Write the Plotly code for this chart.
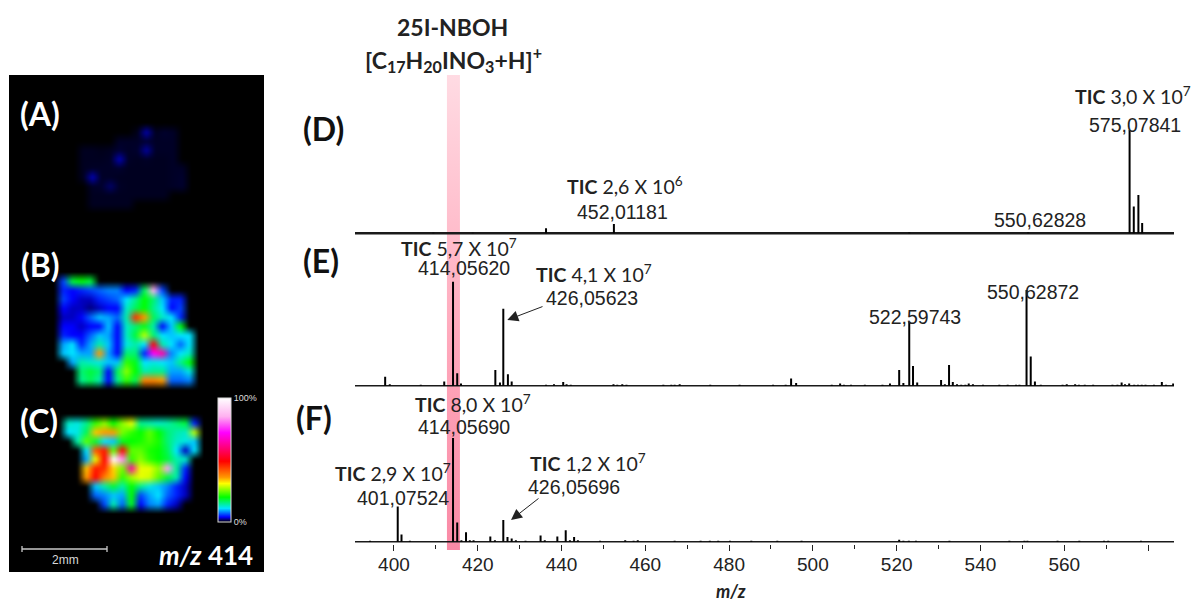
import numpy as np
import plotly.graph_objects as go

W, H = 1197, 603

# ---------- spectra (m/z and relative intensity) ----------
D_MZ = [409.4, 418.8, 436.3, 452.5, 523.0, 551.4, 575.6, 576.6, 577.7, 578.6]
D_INT = [0.6, 0.6, 5, 9, 0.8, 0.8, 100, 26, 37, 10]

E_MZ = [397.9, 399.0, 406.4, 412.0, 414.1, 415.1, 416.0, 424.2, 425.3, 426.1, 427.2, 428.1,
        436.3, 438.2, 440.4, 441.2, 442.2, 452.4, 453.3, 454.5, 455.5, 464.3, 466.2, 467.0, 468.2,
        475.5, 482.5, 490.5, 493.5, 494.8, 496.0, 504.5, 506.5, 507.4, 509.1, 512.4, 516.6, 518.4,
        520.6, 521.6, 523.0, 523.9, 524.9, 530.6, 531.5, 532.5, 533.4, 534.4, 535.4, 536.4, 537.2,
        538.2, 540.6, 544.5, 546.5, 548.5, 549.3, 551.0, 552.0, 553.0, 554.4, 559.6, 560.6, 562.6,
        563.5, 564.9, 566.9, 571.5, 572.7, 573.7, 574.5, 575.5, 576.7, 577.6, 578.5, 579.4, 581.4,
        583.3, 584.3, 586.0]
E_INT = [8.6, 1.5, 1, 4, 100, 12, 2, 15, 3, 74, 11, 4,
         1, 1.5, 3.5, 1.5, 1, 1.5, 1, 1.5, 1, 0.8, 1, 1, 1.5,
         1, 1, 0.8, 0.8, 7, 2.5, 1, 2, 1, 1, 1, 1, 2,
         15, 2.5, 61.5, 19, 3, 5.5, 1.5, 20, 3.5, 1.5, 1, 1, 2,
         1.5, 1, 1, 1, 1, 1, 92, 28, 4, 1, 1, 1.5, 1.5,
         1, 1, 1, 1, 1, 3, 1.5, 2, 1, 1, 1, 1, 1,
         3.5, 1, 2]

F_MZ = [394.3, 400.9, 401.8, 403.8, 414.1, 415.1, 416.1, 417.2, 418.1, 419.0, 423.0, 424.1,
        426.1, 427.1, 428.1, 429.1, 431.4, 435.0, 436.0, 439.0, 441.0, 442.0, 443.0, 443.9,
        449.2, 455.2, 457.2, 458.2, 467.0, 473.2, 475.4, 477.4, 480.2, 485.3, 491.5, 497.3,
        520.6, 521.6, 522.9, 524.6, 532.6, 546.9, 550.5, 551.2, 558.4, 563.6, 569.5, 570.5, 578.3]
F_INT = [0.8, 34, 7, 1, 100, 18.5, 1.5, 9, 1.5, 1.5, 5, 1.5,
         21, 4.5, 3, 1.5, 1, 6, 1.5, 5, 11, 1.5, 4.5, 1.5,
         1, 1.5, 1, 1.5, 1, 1, 1, 1, 1, 1, 1, 1,
         2, 1, 1, 1, 1, 1, 1, 1, 1, 1, 1, 1, 1]

MAJOR_TICKS = [400, 420, 440, 460, 480, 500, 520, 540, 560, 580]
MAJOR_LABELS = ["400", "420", "440", "460", "480", "500", "520", "540", "560", ""]
MINOR_TICKS = [410, 430, 450, 470, 490, 510, 530, 550, 570]
MZ_RANGE = [390.7, 586.2]
BAND_MZ = [412.65, 415.75]

# ---------- ion images (relative intensity %) ----------
IMG_A = [
    [0, 0, 0, 0, 0, 0, .4, 2.6, .5, .7, .6, 0],
    [0, 0, 0, 0, .6, .6, .6, .8, .6, .6, .6, 0],
    [.5, .5, .4, .5, .8, .6, .7, 2.4, .6, .6, .6, 0],
    [.5, .5, .5, .6, 2.8, .6, .5, .6, .5, .5, .6, 0],
    [.5, .6, .6, .6, .7, .5, .5, .5, .5, .5, .6, .6],
    [.5, 2.8, .6, .6, .5, .5, .5, .5, .5, .5, .6, .7],
    [0, .6, .7, 1.6, .6, .5, .5, .5, .5, .5, .6, .7],
    [0, .5, .5, .5, .5, .5, .5, .5, .5, .5, 0, 0],
    [0, .5, .5, .5, .5, .5, 0, 0, 0, 0, 0, 0],
]
IMG_B = [
    [6, 18, 20, 18, 0, 0, 0, 0, 0, 0, 0, 0, 0, 0, 0],
    [5, 4, 5, 6, 7, 8, 8, 4, 5, 17, 85, 6, 0, 0, 0],
    [6, 4, 3, 3, 5, 6, 7, 11, 15, 20, 16, 10, 5, 5, 0],
    [4, 3, 3, 2, 3, 4, 4, 13, 17, 20, 15, 11, 4, 6, 0],
    [3, 3, 4, 7, 10, 9, 7, 14, 45, 36, 17, 13, 11, 5, 0],
    [4, 4, 3, 4, 4, 10, 4, 13, 16, 19, 14, 4, 10, 20, 0],
    [5, 4, 4, 7, 10, 9, 4, 13, 18, 28, 16, 11, 10, 11, 11],
    [9, 11, 5, 9, 14, 10, 4, 12, 14, 11, 50, 14, 11, 7, 11],
    [10, 11, 9, 9, 36, 9, 4, 16, 16, 5, 72, 64, 8, 11, 13],
    [0, 9, 14, 13, 12, 10, 10, 22, 19, 11, 12, 11, 10, 15, 20],
    [0, 0, 16, 18, 16, 4, 17, 26, 20, 14, 15, 15, 9, 9, 12],
    [0, 0, 15, 17, 14, 4, 15, 22, 17, 38, 38, 36, 7, 7, 8],
]
IMG_C = [
    [13, 12, 15, 22, 26, 20, 26, 30, 15, 14, 13, 14, 16, 18, 5],
    [11, 12, 17, 34, 36, 36, 25, 22, 20, 24, 20, 16, 14, 13, 28],
    [0, 14, 24, 18, 11, 10, 19, 20, 21, 23, 21, 16, 13, 12, 10],
    [0, 0, 11, 42, 47, 24, 50, 24, 24, 21, 20, 17, 11, 3, 11],
    [0, 0, 9, 30, 49, 100, 82, 22, 26, 22, 20, 18, 14, 13, 0],
    [0, 0, 34, 47, 45, 33, 25, 64, 30, 30, 26, 84, 15, 5, 0],
    [0, 0, 36, 49, 38, 34, 22, 27, 30, 29, 24, 18, 14, 4, 0],
    [0, 0, 0, 10, 14, 18, 14, 20, 15, 12, 10, 8, 5, 3, 0],
    [0, 0, 0, 7, 8, 10, 9, 20, 6, 9, 11, 7, 5, 3, 0],
    [0, 0, 0, 0, 6, 14, 7, 19, 4, 8, 9, 5, 3, 0, 0],
]
COLOR_STOPS = [0, 4, 11, 20, 31, 36, 49, 72, 85, 100]
COLOR_RGB = [(0, 0, 0), (0, 0, 255), (0, 229, 255), (0, 255, 0), (255, 255, 0), (255, 153, 0),
             (255, 0, 0), (255, 0, 255), (255, 176, 240), (255, 255, 255)]
SCALE_BAR_MM = 2

# ---------- layout helpers ----------
LEFT, RIGHT = 355, 1174
PXMM = 42.5
PANEL = dict(l=9, r=264, t=75, b=572)
CELL_PX = 9
BLUR_KERNEL = np.array([1, 3, 6, 8, 6, 3, 1], dtype=float)
SANS = "Liberation Sans"
BOLD = "Lato"


def px(x):
    return x / W


def py(y):
    return 1 - y / H


def stems(mz, vals):
    xs, ys = [], []
    for m, v in zip(mz, vals):
        xs += [m, m, None]
        ys += [0, v, None]
    return xs, ys


def to_rgb(values):
    rgb = np.array(COLOR_RGB, dtype=float)
    return np.stack([np.interp(values, COLOR_STOPS, rgb[:, k]) for k in range(3)], axis=-1)


def resample(arr, axis, factor):
    n = arr.shape[axis]
    pos = np.arange((n - 1) * factor + 1) / factor
    i0 = np.clip(np.floor(pos).astype(int), 0, n - 2)
    t = pos - i0
    shape = [1] * arr.ndim
    shape[axis] = -1
    t = t.reshape(shape)
    out = np.take(arr, i0, axis=axis) * (1 - t) + np.take(arr, i0 + 1, axis=axis) * t
    k = BLUR_KERNEL / BLUR_KERNEL.sum()
    return np.apply_along_axis(lambda v: np.convolve(v, k, mode="same"), axis, out)


def ion_image(cells):
    """Colour the cells, then blur the colours as the instrument's image viewer does."""
    rgb = to_rgb(np.pad(np.array(cells, dtype=float), 1))
    return np.rint(resample(resample(rgb, 0, CELL_PX), 1, CELL_PX)).astype(np.uint8)


fig = go.Figure()

# highlight band (first subplot, so it is painted below the spectra)
fig.add_trace(go.Scatter(
    x=[BAND_MZ[0], BAND_MZ[1], BAND_MZ[1], BAND_MZ[0], BAND_MZ[0]],
    y=[0, 0, 1, 1, 0], mode="lines", line=dict(width=0), fill="toself",
    fillgradient=dict(type="vertical",
                      colorscale=[[0, "#fa8aa6"], [0.45, "#ffa9bc"], [1, "#ffdbe3"]]),
    xaxis="x", yaxis="y", hoverinfo="skip"))

# ion images
for img, left, top in [(IMG_A, 83.3, 132.3), (IMG_B, 63.3, 281.7), (IMG_C, 68.3, 423.3)]:
    fig.add_trace(go.Image(
        z=ion_image(img), colormodel="rgb",
        x0=(left - CELL_PX - PANEL["l"]) / PXMM, dx=1 / PXMM,
        y0=(top - CELL_PX - PANEL["t"]) / PXMM, dy=1 / PXMM,
        xaxis="x2", yaxis="y2", hoverinfo="skip"))

# colour scale of the ion images
fig.add_trace(go.Scatter(x=[0], y=[0], mode="markers", xaxis="x2", yaxis="y2", hoverinfo="skip",
                         marker=dict(size=1, opacity=0, color=[0], coloraxis="coloraxis")))

# scale bar
bar_x0 = (22 - PANEL["l"]) / PXMM
bar_y = (549 - PANEL["t"]) / PXMM
cap = 0.07
fig.add_trace(go.Scatter(
    x=[bar_x0, bar_x0 + SCALE_BAR_MM, None, bar_x0, bar_x0, None, bar_x0 + SCALE_BAR_MM, bar_x0 + SCALE_BAR_MM],
    y=[bar_y, bar_y, None, bar_y - cap, bar_y + cap, None, bar_y - cap, bar_y + cap],
    mode="lines", line=dict(color="#c8c8c8", width=1.3), xaxis="x2", yaxis="y2", hoverinfo="skip"))

# spectra
SPECTRA = [("x3", "y3", D_MZ, D_INT, 233.3, 130, 2.6),
           ("x4", "y4", E_MZ, E_INT, 385.7, 281.7, 1.5),
           ("x5", "y5", F_MZ, F_INT, 541.7, 438, 1.5)]
for xa, ya, mz, vals, base, top, base_w in SPECTRA:
    xs, ys = stems(mz, vals)
    fig.add_trace(go.Scatter(x=MZ_RANGE, y=[0, 0], mode="lines",
                             line=dict(color="#1a1a1a", width=base_w),
                             xaxis=xa, yaxis=ya, hoverinfo="skip"))
    fig.add_trace(go.Scatter(x=xs, y=ys, mode="lines", line=dict(color="black", width=2),
                             xaxis=xa, yaxis=ya, hoverinfo="skip"))

layout = dict(
    width=W, height=H, margin=dict(l=0, r=0, t=0, b=0), showlegend=False,
    paper_bgcolor="white", plot_bgcolor="rgba(0,0,0,0)",
    coloraxis=dict(
        cmin=0, cmax=100,
        colorscale=[[s / 100, "rgb(%d,%d,%d)" % c] for s, c in zip(COLOR_STOPS, COLOR_RGB)],
        colorbar=dict(
            x=px(218), xanchor="left", xpad=0, y=py(522), yanchor="bottom", ypad=0,
            thickness=13, thicknessmode="pixels", len=124, lenmode="pixels",
            outlinecolor="#d8d8d8", outlinewidth=1, tickvals=[0, 100], ticktext=["0%", "100%"],
            ticks="", tickfont=dict(family=SANS, size=9, color="#dddddd"))),
    xaxis=dict(domain=[px(LEFT), px(RIGHT)], range=MZ_RANGE, visible=False),
    yaxis=dict(domain=[py(550), py(75)], range=[0, 1], visible=False),
    xaxis2=dict(domain=[px(PANEL["l"]), px(PANEL["r"])], range=[0, (PANEL["r"] - PANEL["l"]) / PXMM], visible=False),
    yaxis2=dict(domain=[py(PANEL["b"]), py(PANEL["t"])], range=[(PANEL["b"] - PANEL["t"]) / PXMM, 0], visible=False,
                scaleanchor="x2", scaleratio=1),
    shapes=[dict(type="rect", xref="paper", yref="paper", x0=px(PANEL["l"]), x1=px(PANEL["r"]),
                 y0=py(PANEL["b"]), y1=py(PANEL["t"]), fillcolor="black", line=dict(width=0), layer="below")],
)
for i, (xa, ya, mz, vals, base, top, base_w) in enumerate(SPECTRA):
    unit = (base - top) / 100
    pad = 4
    n = xa[1:]
    xax = dict(domain=[px(LEFT), px(RIGHT)], range=MZ_RANGE, anchor=ya, visible=False)
    if xa == "x5":
        xax = dict(domain=[px(LEFT), px(RIGHT)], range=MZ_RANGE, anchor="free", position=py(544),
                   showline=False, showgrid=False, zeroline=False, ticks="outside", ticklen=6,
                   tickwidth=1.3, tickcolor="#222222", tickvals=MAJOR_TICKS, ticktext=MAJOR_LABELS,
                   ticklabelstandoff=-3,
                   tickfont=dict(family=SANS, size=19, color="#222222"),
                   minor=dict(tickvals=MINOR_TICKS, ticks="outside", ticklen=3.5, tickwidth=1.3,
                              tickcolor="#222222"))
    layout["xaxis" + n] = xax
    layout["yaxis" + n] = dict(domain=[py(base + pad), py(top - pad)],
                               range=[-pad / unit, 100 + pad / unit], visible=False)

fig.update_layout(**layout)


def label(text, x, y, size, color="#222222", family=SANS):
    fig.add_annotation(text=text, x=px(x), y=py(y), xref="paper", yref="paper", showarrow=False,
                       xanchor="center", yanchor="middle", font=dict(family=family, size=size, color=color))


def tic(mant, exp):
    return f"<b>TIC</b> {mant} X 10<sup>{exp}</sup>"


LABELS = [
    ("<b>25I-NBOH</b>", 452.7, 27, 23, "#222222", BOLD),
    ("<b>[C<sub>17</sub>H<sub>20</sub>INO<sub>3</sub>+H]<sup>+</sup></b>", 453, 60, 23, "#222222", BOLD),
    (tic("2,6", 6), 625, 185, 19.5, "#222222", BOLD),
    (tic("3,0", 7), 1133, 95, 19.5, "#222222", BOLD),
    (tic("5,7", 7), 459, 247, 19.5, "#222222", BOLD),
    (tic("4,1", 7), 594, 273, 19.5, "#222222", BOLD),
    (tic("8,0", 7), 473, 404, 19.5, "#222222", BOLD),
    (tic("2,9", 7), 393, 472, 19.5, "#222222", BOLD),
    (tic("1,2", 7), 588, 462, 19.5, "#222222", BOLD),
    ("452,01181", 622, 212, 19.5, "#222222", SANS),
    ("550,62828", 1040, 220, 19.5, "#222222", SANS),
    ("575,07841", 1135, 125, 19.5, "#222222", SANS),
    ("414,05620", 464, 268, 19.5, "#222222", SANS),
    ("426,05623", 592, 298, 19.5, "#222222", SANS),
    ("522,59743", 915, 317, 19.5, "#222222", SANS),
    ("550,62872", 1033, 292, 19.5, "#222222", SANS),
    ("414,05690", 464, 427, 19.5, "#222222", SANS),
    ("401,07524", 403, 498, 19.5, "#222222", SANS),
    ("426,05696", 574, 487, 19.5, "#222222", SANS),
    ("<b>(D)</b>", 323, 128, 32, "#111111", BOLD),
    ("<b>(E)</b>", 321, 260, 32, "#111111", BOLD),
    ("<b>(F)</b>", 314, 417, 32, "#111111", BOLD),
    ("<b>(A)</b>", 40, 113, 32, "white", BOLD),
    ("<b>(B)</b>", 40, 264, 32, "white", BOLD),
    ("<b>(C)</b>", 39, 420, 32, "white", BOLD),
    ("<b><i>m/z</i> 414</b>", 206, 555, 26, "white", BOLD),
    ("2mm", 65, 560, 12, "#d8d8d8", SANS),
    ("<b><i>m/z</i></b>", 731, 591, 18, "#222222", BOLD),
]
for item in LABELS:
    label(*item)

for tail, tip in [((544, 306), (507.3, 320)), ((540, 497.3), (511, 520))]:
    fig.add_annotation(text="", x=px(tip[0]), y=py(tip[1]), xref="paper", yref="paper", showarrow=True,
                       ax=tail[0] - tip[0], ay=tail[1] - tip[1], axref="pixel", ayref="pixel",
                       arrowhead=2, arrowsize=2.2, arrowwidth=1, arrowcolor="#222222")

fig.write_html("out.html", post_script="document.body.style.margin='0';",
               config=dict(displayModeBar=False))
